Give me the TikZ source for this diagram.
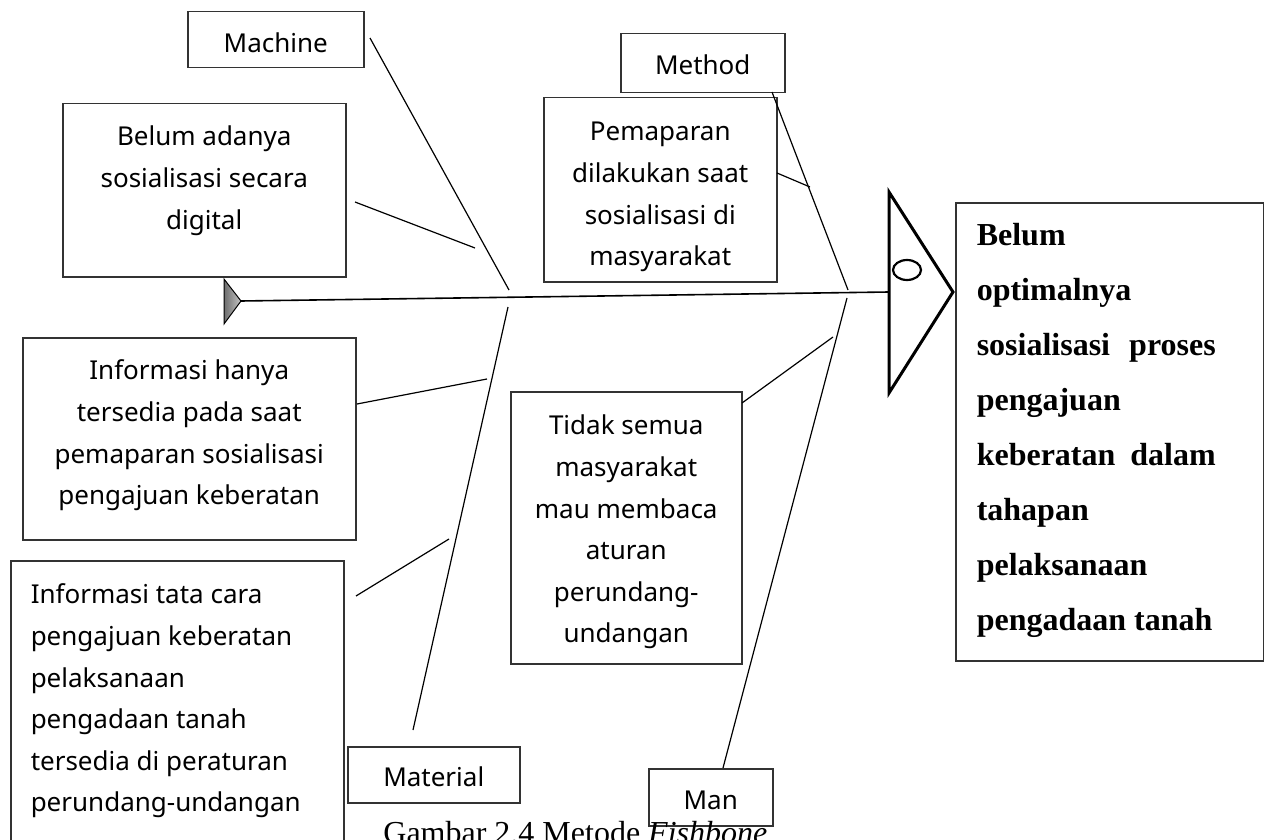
\documentclass[tikz,border=0pt]{standalone}
\usepackage{fontspec}
\setmainfont{Liberation Serif}
\newfontfamily\boxfont{Noto Sans}
\newcommand\bxt[4]{\parbox[t][#2][t]{#1}{\vspace*{#3}#4}}
\begin{document}
\begin{tikzpicture}[x=0.5pt,y=-0.5pt,
  box/.style={draw=black!80, line width=0.75pt, inner sep=0pt, anchor=north west},
  bone/.style={line width=0.6pt, draw=black},
  sans/.style={font=\boxfont\fontsize{13}{20.8}\selectfont},
  result/.style={font=\bfseries\fontsize{16}{27.5}\selectfont},
  ]
\useasboundingbox (0,0) rectangle (1264,840);

% boxes
\node[box,sans] (machine) at (187,11)
  {\bxt{88pt}{28pt}{6pt}{\centering\strut Machine}};
\node[box,sans] (digital) at (62,103)
  {\bxt{141.5pt}{86.5pt}{6.5pt}{\centering\strut Belum adanya\\ sosialisasi secara\\ digital}};
\node[box,sans] (hanya) at (22,337)
  {\bxt{166.5pt}{101pt}{6.5pt}{\centering\strut Informasi hanya\\ tersedia pada saat\\ pemaparan sosialisasi\\ pengajuan keberatan}};
\node[box,sans] (tatacara) at (10,560)
  {\bxt{166.5pt}{150pt}{7pt}{\raggedright\leftskip=10pt\strut Informasi tata cara\\ pengajuan keberatan\\ pelaksanaan\\ pengadaan tanah\\ tersedia di peraturan\\ perundang-undangan}};
\node[box,sans] (material) at (347,746)
  {\bxt{86pt}{28pt}{5.5pt}{\centering\strut Material}};
\node[box,sans] (man) at (648,768)
  {\bxt{62pt}{28.5pt}{6pt}{\centering\strut Man}};
\node[box,sans] (method) at (620,33)
  {\bxt{82pt}{29.5pt}{6pt}{\centering\strut Method}};
\node[box,sans] (pemaparan) at (543,97)
  {\bxt{116.5pt}{92pt}{7pt}{\centering\strut Pemaparan\\ dilakukan saat\\ sosialisasi di\\ masyarakat}};
\node[box,sans] (tidak) at (510,391)
  {\bxt{115.5pt}{136pt}{7pt}{\centering\strut Tidak semua\\ masyarakat\\ mau membaca\\ aturan\\ perundang-\\ undangan}};
\node[box,result] (effect) at (955,202)
  {\bxt{154pt}{229pt}{2.3pt}{\raggedright\leftskip=10.5pt\rightskip=24pt plus 1fil\strut Belum\\ optimalnya\\ sosialisasi\hfill proses\\ pengajuan\\ keberatan\hfill dalam\\ tahapan\\ pelaksanaan\\ pengadaan tanah}};

% fish tail and head
\draw[line width=0.5pt, left color=gray!85!black, right color=gray!45] (224,279) -- (241,301) -- (224,324) -- cycle;
\coordinate (tail) at (241,301);
\draw[line width=1.5pt, line join=miter] (889,192) -- (953,292) -- (889,393) -- cycle;
\coordinate (head) at (889,292);
\draw[line width=1.1pt] (907,270) ellipse [x radius=14, y radius=10];

% spine
\draw[line width=0.8pt] (tail) -- (head);

% bones
\coordinate (machA) at (370,38);   \coordinate (machB) at (509,290);
\coordinate (digA) at (355,202);   \coordinate (digB) at (475,248);
\coordinate (matA) at (508,307);   \coordinate (matB) at (413,730);
\coordinate (hanA) at (357,404);   \coordinate (hanB) at (487,379);
\coordinate (tatA) at (356,596);   \coordinate (tatB) at (449,539);
\coordinate (metA) at (772,92);    \coordinate (metB) at (848,290);
\coordinate (pemA) at (777,173);   \coordinate (pemB) at (810,187);
\coordinate (manA) at (847,298);   \coordinate (manB) at (723,768);
\coordinate (tidA) at (742,403);   \coordinate (tidB) at (833,337);

\draw[bone] (machA) -- (machB);
\draw[bone] (digA) -- (digB);
\draw[bone] (matA) -- (matB);
\draw[bone] (hanA) -- (hanB);
\draw[bone] (tatA) -- (tatB);
\draw[bone] (metA) -- (metB);
\draw[bone] (pemA) -- (pemB);
\draw[bone] (manA) -- (manB);
\draw[bone] (tidA) -- (tidB);

% caption (cut by the page edge, as in the reference)
\node[anchor=base west, inner sep=0pt, font=\fontsize{16}{20}\selectfont] (caption) at (383,843)
  {Gambar 2.4 Metode \textit{Fishbone}};
\end{tikzpicture}
\end{document}
